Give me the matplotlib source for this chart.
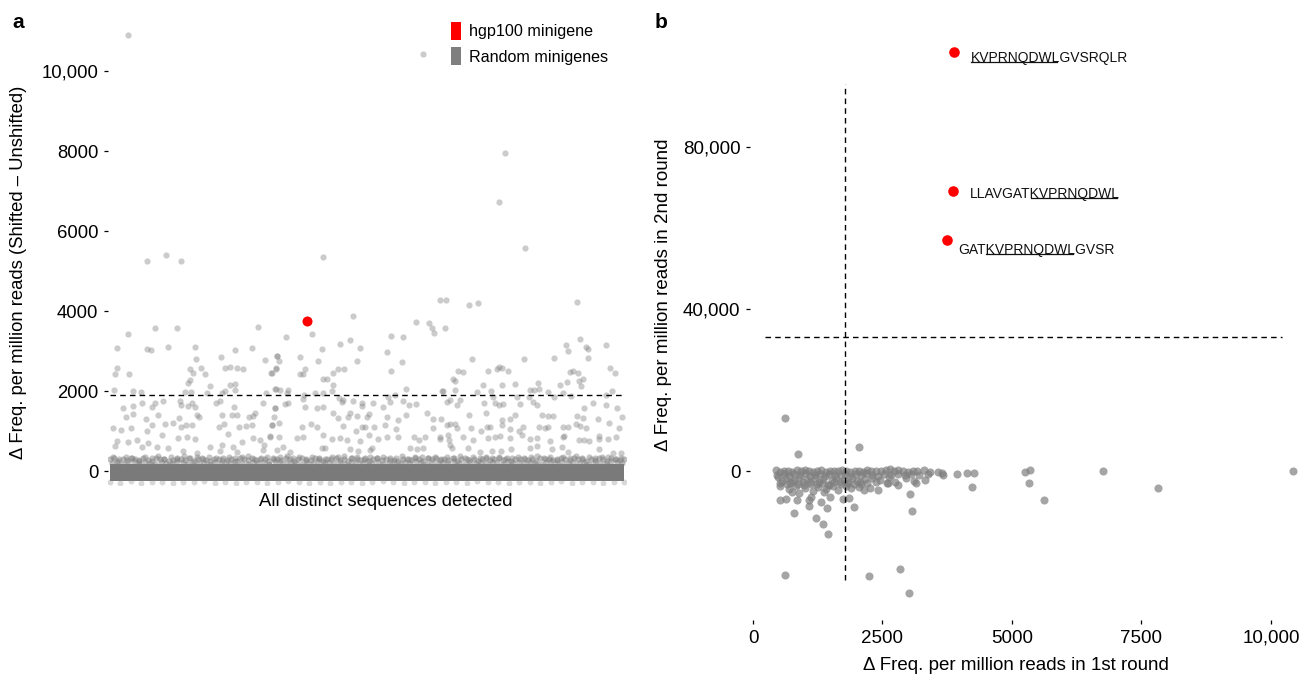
import numpy as np
import matplotlib
matplotlib.use("Agg")
import matplotlib.pyplot as plt
from matplotlib.patches import Patch
from matplotlib.lines import Line2D

plt.rcParams['font.family'] = ['Liberation Sans', 'DejaVu Sans']

# ---------------- panel a data ----------------
# scattered random minigenes (sequence rank, delta freq)
a_idx = [183, 73, 450, 667, 367, 410, 583, 853, 860, 1110, 1250, 1423, 1480, 1550, 1667,
         70, 50, 190, 800, 833, 907, 953, 800, 783, 1000, 1150, 1200, 1267, 1333, 1250, 1200,
         1607, 1657, 40, 233, 307, 750, 807, 967, 1117, 1150, 1250, 1560, 1657,
         133, 227, 160, 233, 27, 107, 210, 323, 417, 450, 483, 533, 700, 710, 783, 823, 850, 867,
         357, 417, 550, 633, 687, 707, 760, 817, 887, 1060, 1100, 1117, 1093, 1140, 1177, 1240,
         1267, 1217, 1293, 1360, 1393, 1427, 1450, 1417, 1533, 1650, 1640, 1617,
         67, 183, 267, 383, 517, 367, 683, 773, 850, 1000, 1123, 1233, 1317, 1433, 1500, 1543, 1600,
         50, 317, 467, 583, 733, 867, 1100, 1267, 1533, 1667,
         2433, 2017, 1757, 2117, 2300, 2403, 2500, 1667, 1693, 1900, 2083, 2473, 1660, 1617,
         1900, 1933, 1950, 2127, 2173, 2233, 2283, 2343, 2233, 2217, 1650, 1700, 1777, 1767,
         1943, 2050, 2133, 2293, 2317, 2767, 2807, 2927, 3057, 3193, 3220, 3243, 3347, 3300, 3360,
         2810, 2917, 2960, 3323, 2783, 2850, 1933, 1950, 1650, 1750, 1777, 2067, 2133, 2233, 2283,
         2327, 2433, 2517, 2517, 2633, 2733, 2800, 2933, 2993, 3060, 2400, 2467, 2567, 2593,
         2383, 2767, 2883, 2960, 3173, 3233, 3307, 1617, 1690, 1923, 2007, 2067,
         2333, 2460, 2517, 2550, 2640, 2750, 2860, 3233, 3367,
         1600, 1693, 1873, 1933, 2133, 2217, 2300, 2367, 2500, 2593, 2683, 2767, 2883, 3040, 3093,
         3150, 3300, 1733, 1800, 2117, 2150, 2400, 2483, 2600, 2617, 3000, 3067, 3133,
         3590, 3683, 4667, 3617, 4140, 4440, 4700, 4757, 4783, 4560, 4583, 4957, 4777, 5000, 5050,
         3477, 3533, 3433, 3450, 3783, 3867, 3893, 3923, 3980, 4050, 3733, 3917, 4283,
         4200, 4240, 4293, 4500, 4573, 4600, 4627, 4677, 4693, 4733, 4710,
         3327, 3450, 3667, 3807, 4067, 4377, 4443, 4527, 4607, 4960, 5017,
         3373, 3400, 3473, 3500, 3740, 3833, 3850, 3893, 3933, 4100, 4190, 4227, 4267,
         4740, 4833, 4960, 5073, 3590, 3757, 3917, 4000, 4050, 4323, 4377, 4427, 4673, 4727,
         4883, 4993, 5117, 3400, 3450, 3473, 3607, 3707, 3767, 3800, 3917, 4000, 4093, 4133,
         4293, 4350, 4383, 4533, 4583, 4660, 4700, 4760, 5093,
         3300, 3383, 3393, 3400, 3417, 3533, 3633, 3700, 3783, 3850, 3900, 4000, 4117, 4200,
         4267, 4273, 4400, 4527, 4543, 4693, 4740, 4793, 4893, 4893, 4983, 5060,
         3583, 3817, 3907, 4007, 4200, 4417, 4517, 4577, 4893, 5033, 5107,
         183, 373, 560, 713, 2130, 3127, 3950, 3893, 4150]
a_val = [3417, 3083, 3567, 3575, 3042, 3017, 3100, 3100, 2808, 2850, 3017, 3067, 3592, 2783, 2875,
         2575, 2425, 2433, 2542, 2442, 2575, 2425, 2275, 2192, 2133, 2575, 2608, 2567, 2550, 2175, 2142,
         2450, 2567, 2017, 1992, 1983, 1983, 1983, 1942, 1942, 2008, 2025, 1942, 2042,
         1583, 1625, 1358, 1425, 1075, 1025, 1075, 1708, 1600, 1692, 1400, 1742, 1742, 1642, 1633, 1692, 1608, 1392,
         1292, 1158, 1175, 1192, 1325, 1092, 1142, 1142, 1342, 1692, 1742, 1400, 1092, 1175, 917, 1592,
         1392, 1408, 1092, 1133, 1358, 1375, 1442, 1142, 1692, 1575, 1358, 1158,
         742, 725, 775, 692, 908, 1000, 833, 858, 800, 608, 642, 608, 725, 817, 775, 650, 858,
         633, 592, 608, 567, 508, 458, 508, 467, 525, 525,
         3883, 3417, 3342, 3050, 3183, 3275, 3083, 2875, 2750, 2858, 2750, 2750, 2550, 2442,
         2417, 2417, 2542, 2308, 2292, 2458, 2542, 2558, 2158, 1992, 2050, 2025, 2025, 1942,
         1892, 1942, 1942, 1817, 1733, 2983, 3375, 3342, 3717, 3692, 3567, 3458, 3567, 4275, 4275,
         2500, 2717, 2042, 1992, 1858, 1892, 1808, 1608, 1575, 1675, 1692, 1567, 1592, 1458, 1333,
         1775, 1742, 1708, 1625, 1708, 1592, 1725, 1758, 1642, 1675, 1442, 1375, 1358, 1425,
         1342, 1342, 1275, 1400, 1442, 1308, 1292, 1150, 1208, 1108, 1175, 1108,
         1125, 1008, 1108, 1108, 1108, 1142, 1042, 1067, 1150,
         875, 858, 817, 858, 900, 792, 817, 775, 750, 892, 792, 858, 858, 858, 775,
         858, 842, 608, 483, 583, 567, 542, 508, 525, 567, 567, 550, 567,
         4150, 4192, 4233, 2800, 2792, 2817, 3300, 3108, 3050, 3150, 3000, 3150, 2833, 2583, 2442,
         2508, 2483, 2300, 2250, 2508, 2542, 2592, 2583, 2508, 2175, 2142, 2142, 2192,
         2025, 2025, 2058, 2150, 2233, 2483, 2500, 2442, 2250, 2300, 2125,
         2008, 2025, 1967, 2008, 1858, 1983, 1858, 1942, 1875, 1900, 2008,
         1733, 1775, 1650, 1775, 1708, 1842, 1708, 1650, 1675, 1667, 1858, 1733, 1650,
         1583, 1692, 1658, 1583, 1400, 1442, 1275, 1292, 1400, 1400, 1375, 1383, 1375, 1317,
         1292, 1192, 1358, 1175, 1167, 1083, 1067, 1000, 1108, 1108, 1150, 1042, 1008, 1108,
         1108, 1067, 1092, 1108, 1108, 1175, 1125, 1083, 1067,
         792, 900, 775, 650, 567, 858, 775, 483, 817, 858, 875, 817, 900, 792,
         817, 625, 758, 858, 875, 775, 775, 750, 792, 875, 792, 842,
         583, 508, 508, 542, 583, 550, 608, 483, 542, 442, 458,
         10892, 5258, 5392, 5258, 5342, 10417, 7958, 6717, 5583]

# dense strip of overlapping minigenes just above the zero band
fringe_top = [290, 320, 250, 310, 270, 335, 300, 240, 320, 285, 260, 330, 295, 310, 250, 280,
              325, 300, 270, 315, 240, 300, 330, 285, 260, 310, 290, 335, 270, 300, 255, 320,
              295, 280, 330, 265, 305, 290, 250, 320, 300, 275, 335, 310, 260, 295, 320, 285,
              270, 330, 300, 245, 310, 290, 325, 275, 300, 260, 335, 305, 280, 315, 250, 295,
              320, 270, 300, 330, 285, 260, 310, 295, 275, 325, 300, 250, 315, 290, 335, 270,
              305, 280, 320, 260, 300, 330, 285, 310, 255, 295, 325, 270, 300, 315, 280, 335,
              260, 305, 290, 320, 275, 300, 250, 330, 295, 310, 265, 285, 325, 300, 270, 315,
              290, 335, 255, 305, 280, 320, 300, 260, 330, 295, 275, 310]
fringe_mid = [345, 300, 360, 320, 280, 350, 330, 370, 310, 340, 290, 365, 325, 350, 300, 355,
              335, 285, 360, 315, 345, 370, 305, 330, 355, 295, 340, 365, 320, 350, 310, 360,
              330, 290, 355, 340, 370, 315, 345, 300, 360, 325, 350, 285, 335, 365, 310, 345,
              355, 320, 340, 295, 360, 330, 370, 305, 350, 325, 345, 315, 360, 290, 335, 355,
              300, 345, 365, 320, 340, 310, 355, 330, 370, 295, 350, 325, 345, 360, 305, 335]
fringe_low = [200, 230, 180, 215, 240, 190, 225, 205, 175, 235, 210, 195, 240, 220, 185, 230,
              200, 215, 180, 235, 205, 225, 190, 240, 210, 175, 230, 200, 220, 185, 240, 215,
              195, 230, 205, 180, 225, 210, 240, 190, 220, 200, 235, 185, 215, 230, 195, 240,
              205, 225, 180, 210, 235, 200, 220, 190, 240, 215, 185, 230, 205, 225, 195, 240,
              210, 180, 230, 200, 220, 190, 235, 215, 185, 240, 205, 225, 195, 230, 210, 180,
              220, 240, 200, 215, 190, 235, 205, 225, 185, 230, 210, 195, 240, 220, 200]
fringe_bottom = [-270, -290, -260, -300, -280, -265, -295, -275, -285, -260, -300, -270, -290,
                 -280, -265, -295, -275, -260, -285, -300, -270, -290, -265, -280, -295, -275,
                 -260, -285, -300, -270, -280, -290, -265, -275, -295, -260, -285, -270, -300,
                 -280, -265, -290, -275, -260, -295, -285, -270, -300, -280, -265]

a_band = (-250, 170)     # solid bulk of sequences around zero
a_n_seq = 5140
a_threshold = 1900
hgp_idx = 1973
hgp_val = 3760

a_yticks = [0, 2000, 4000, 6000, 8000, 10000]
a_ylabels = ['0', '2000', '4000', '6000', '8000', '10,000']

# ---------------- panel b data ----------------
b_x = [611, 878, 2048, 611, 2245, 2837, 3008, 782, 1342, 1456, 1215, 1088, 1310, 1437, 1482,
       528, 642, 846, 1075, 1743, 1863, 1946, 757, 891, 1119, 1374, 3040, 3072, 4236, 5336,
       5349, 5253, 3930, 4140, 4268, 3568, 3663, 3314, 3155, 2792, 2582, 2423, 2264, 5610,
       6760, 7820, 10430,
       450, 520, 600, 680, 760, 840, 920, 1000, 1080, 1160, 1240, 1320, 1400, 1480, 1560, 1640,
       1720, 1800, 1880, 1960, 2040, 2120, 2200, 2280, 2380, 2480, 2560, 2640, 2720, 2800, 2900,
       3000, 3080, 3160, 3300, 3420, 3640,
       470, 590, 700, 790, 900, 1010, 1100, 1190, 1290, 1390, 1470, 1580, 1690, 1780, 1870,
       1990, 2090, 2190, 2290, 2420, 2530, 2660, 2790, 2930, 3060, 3200, 3380,
       480, 560, 640, 720, 800, 880, 960, 1040, 1120, 1200, 1280, 1360, 1440, 1520, 1600, 1680,
       1760, 1840, 1920, 2000, 2080, 2160, 2300, 2460, 2620, 2750, 2950, 3100,
       530, 650, 760, 870, 990, 1100, 1230, 1340, 1460, 1570, 1700, 1820, 1950, 2070, 2200,
       2380, 2600,
       520, 700, 830, 1000, 1150, 1250, 1400, 1550, 1650, 1800, 1900, 2050, 2150]
b_y = [13100, 4285, 5930, -25590, -26000, -24190, -30200, -10360, -13160, -15550, -11520, -8640,
       -7650, -9210, -6410, -7150, -6990, -7150, -7150, -6990, -6580, -8970, -5100, -5510, -6330,
       -5100, -5750, -9790, -3950, -2960, 250, -330, -820, -570, -570, -330, -1000, -2220, -3050,
       -3450, -3050, -4700, -4275, -7160, 0, -4200, 0,
       200, -300, 100, 0, -200, 300, -100, 200, 0, -300, 100, 200, -200, 0, 100, -100, 200, 0,
       -300, 100, 0, -200, 300, 100, -100, 0, 200, 500, -100, 300, 0, -200, 100, 0, 200, -300, -500,
       -900, -700, -1100, -800, -1000, -600, -1200, -900, -700, -1100, -800, -1000, -900, -700,
       -1200, -800, -1000, -600, -900, -1100, -700, -900, -800, -1000, -700, -900, -800,
       -1500, -2500, -1800, -3000, -2200, -1600, -2800, -2000, -3200, -1700, -2600, -1900, -3400,
       -2100, -1600, -2700, -2300, -3000, -1800, -2500, -3300, -2000, -1700, -2200, -1500, -2600,
       -1800, -2400,
       -2900, -3300, -2700, -3100, -3500, -2800, -3200, -3000, -3400, -2700, -3100, -2900,
       -3300, -2800, -3000, -2600, -2900,
       -3800, -4500, -3600, -4200, -5000, -3900, -4400, -3700, -4800, -3600, -4300, -3900, -4600]

hit_x = [3880, 3860, 3745]
hit_y = [103500, 69160, 57060]
hit_pre = ['', 'LLAVGAT', 'GAT']
hit_core = ['KVPRNQDWL', 'KVPRNQDWL', 'KVPRNQDWL']
hit_post = ['GVSRQLR', '', 'GVSR']
hit_offset = [(12, -4), (12, -2), (8, -7)]

b_vline_x = 1775
b_vline_y = (-27000, 95600)
b_hline_y = 33100
b_hline_x = (230, 10210)

b_xticks = [0, 2500, 5000, 7500, 10000]
b_xlabels = ['0', '2500', '5000', '7500', '10,000']
b_yticks = [0, 40000, 80000]
b_ylabels = ['0', '40,000', '80,000']

gray = '#7f7f7f'
fs_a = 13.3
fs_b = 13.5

fig = plt.figure(figsize=(13.04, 6.76), dpi=100)

# ---------------- panel a ----------------
ax1 = fig.add_axes([108 / 1304, 1 - 485 / 676, 518 / 1304, 465 / 676])
ax1.fill_between([0, a_n_seq], a_band[0], a_band[1], color='#7a7a7a', lw=0, zorder=1)
ax1.scatter(np.linspace(0, a_n_seq, len(fringe_top)), fringe_top, s=20, color=gray,
            alpha=0.5, lw=0, zorder=2)
ax1.scatter(np.linspace(30, a_n_seq - 30, len(fringe_mid)), fringe_mid, s=20, color=gray,
            alpha=0.45, lw=0, zorder=2)
ax1.scatter(np.linspace(20, a_n_seq - 20, len(fringe_low)), fringe_low, s=20, color=gray,
            alpha=0.5, lw=0, zorder=2)
ax1.scatter(np.linspace(0, a_n_seq, len(fringe_bottom)), fringe_bottom, s=18, color=gray,
            alpha=0.3, lw=0, zorder=2)
ax1.scatter(a_idx, a_val, s=20, color=gray, alpha=0.4, lw=0, zorder=2)
ax1.plot([0, a_n_seq], [a_threshold, a_threshold], ls=(0, (4, 3)), color='black', lw=1, zorder=3)
ax1.scatter([hgp_idx], [hgp_val], s=52, color='#ff0000', lw=0, zorder=4)

ax1.set_xlim(-20, a_n_seq + 20)
ax1.set_ylim(-350, 11275)
ax1.set_xticks([])
ax1.set_yticks(a_yticks)
ax1.set_yticklabels(a_ylabels, fontsize=fs_a)
ax1.tick_params(axis='y', length=3, width=0.9, pad=4)
for sp in ax1.spines.values():
    sp.set_visible(False)
ax1.set_xlabel('All distinct sequences detected', fontsize=fs_a, va='center')
ax1.set_ylabel('\u0394 Freq. per million reads (Shifted \u2013 Unshifted)', fontsize=fs_a,
               va='center')
ax1.xaxis.set_label_coords((386 - 108) / 518, -(501 - 485) / 465)
ax1.yaxis.set_label_coords(-(108 - 19) / 518, (485 - 272) / 465)

handles = [Patch(facecolor='#ff0000', edgecolor='none'), Patch(facecolor=gray, edgecolor='none')]
ax1.legend(handles, ['hgp100 minigene', 'Random minigenes'], loc='upper left',
           bbox_to_anchor=(451 / 1304, 1 - 22 / 676), bbox_transform=fig.transFigure,
           frameon=False, fontsize=11.6, handlelength=0.6, handleheight=1.35,
           handletextpad=0.5, labelspacing=0.45, borderpad=0, borderaxespad=0)

# ---------------- panel b ----------------
ax2 = fig.add_axes([750 / 1304, 1 - 620 / 676, 552 / 1304, 580 / 676])
ax2.scatter(b_x, b_y, s=34, color=gray, alpha=0.7, lw=0, zorder=2)
ax2.plot([b_vline_x, b_vline_x], b_vline_y, ls=(0, (4, 3)), color='black', lw=1, zorder=3)
ax2.plot(b_hline_x, [b_hline_y, b_hline_y], ls=(0, (4, 3)), color='black', lw=1, zorder=3)
ax2.scatter(hit_x, hit_y, s=58, color='#ff0000', lw=0, zorder=4)

ax2.set_xlim(-58, 10600)
ax2.set_ylim(-36800, 106500)
ax2.set_xticks(b_xticks)
ax2.set_xticklabels(b_xlabels, fontsize=fs_b)
ax2.set_yticks(b_yticks)
ax2.set_yticklabels(b_ylabels, fontsize=fs_b)
ax2.tick_params(length=3, width=0.9, pad=4)
for sp in ax2.spines.values():
    sp.set_visible(False)
ax2.set_xlabel('\u0394 Freq. per million reads in 1st round', fontsize=fs_b, va='center')
ax2.set_ylabel('\u0394 Freq. per million reads in 2nd round', fontsize=fs_b, va='center')
ax2.xaxis.set_label_coords((1016 - 750) / 552, -(666 - 620) / 580)
ax2.yaxis.set_label_coords(-(750 - 663) / 552, (620 - 295) / 580)

# peptide labels, core epitope underlined
pep_texts = []
for x, y, pre, core, post, off in zip(hit_x, hit_y, hit_pre, hit_core, hit_post, hit_offset):
    t = ax2.annotate(pre + core + post, (x, y), xytext=off, textcoords='offset points',
                     ha='left', va='center', fontsize=10, color='#111111')
    pep_texts.append((t, pre, core))

fig.text(12 / 1304, 1 - 22 / 676, 'a', fontsize=15, fontweight='bold', va='center')
fig.text(655 / 1304, 1 - 22 / 676, 'b', fontsize=15, fontweight='bold', va='center')

fig.canvas.draw()
renderer = fig.canvas.get_renderer()
inv = fig.transFigure.inverted()


def text_width(s):
    if not s:
        return 0.0
    tmp = fig.text(0, 0, s, fontsize=10)
    w = tmp.get_window_extent(renderer).width
    tmp.remove()
    return w


for t, pre, core in pep_texts:
    bb = t.get_window_extent(renderer)
    x0 = bb.x0 + text_width(pre)
    x1 = bb.x0 + text_width(pre + core)
    yb = bb.y0 + 0.22 * bb.height
    p0 = inv.transform((x0 + 0.5, yb))
    p1 = inv.transform((x1 - 2.5, yb))
    fig.add_artist(Line2D([p0[0], p1[0]], [p0[1], p1[1]], color='#111111', lw=0.9,
                          transform=fig.transFigure))

fig.savefig('out.png', dpi=100)
